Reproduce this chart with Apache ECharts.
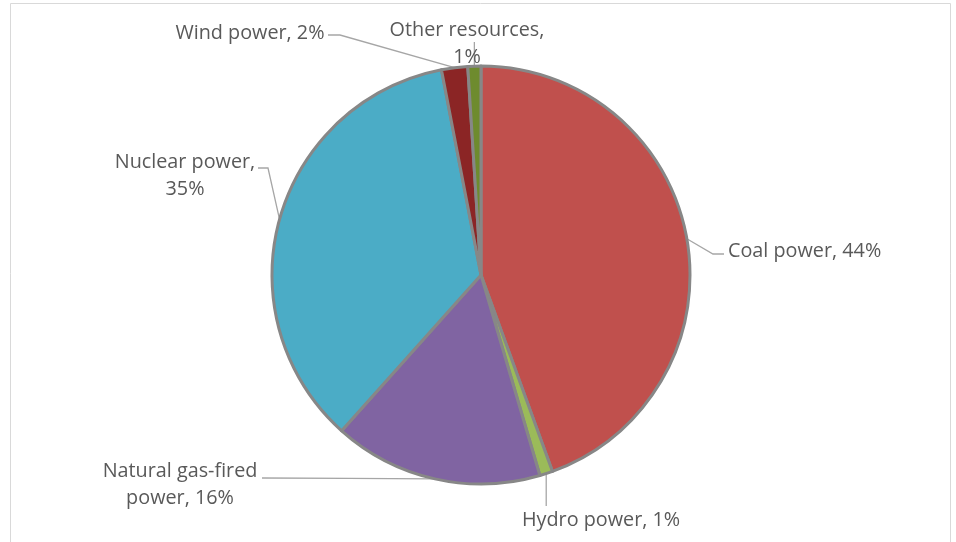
<!DOCTYPE html>
<html>
<head>
<meta charset="utf-8">
<script src="https://cdn.jsdelivr.net/npm/echarts@6/dist/echarts.min.js"></script>
<style>
html,body{margin:0;padding:0;background:#fff;}
#c{width:956px;height:542px;}
</style>
</head>
<body>
<div id="c"></div>
<script>
var labelNames = ['Coal power', 'Hydro power', 'Natural gas-fired', 'Nuclear power', 'Wind power', 'Other resources'];
var shares = [44, 1, 16, 35, 2, 1];
var colors = ['#C0504D', '#9BBB59', '#8064A2', '#4BACC6', '#8B2525', '#6E8B2E'];

// label placement (layout only): text anchor and leader-line bend points
var labelPlace = [
  {x: 728, y: 251, align: 'left',   bend: [[713, 254], [724, 254]]},
  {x: 522, y: 520, align: 'left',   bend: 'down', endY: 506},
  {x: 180, y: 485, align: 'center', bend: [[262, 478]]},
  {x: 185, y: 176, align: 'center', bend: [[268, 168], [258, 168]]},
  {x: 250, y: 33,  align: 'center', bend: [[340, 35], [328, 35]]},
  {x: 467, y: 44,  align: 'center', bend: 'up', endY: 42}
];
var labelText = function (i) {
  var n = labelNames[i], v = shares[i] + '%';
  if (i === 2) return 'Natural gas-fired\npower, ' + v;
  if (i === 3 || i === 5) return n + ',\n' + v;
  return n + ', ' + v;
};

var chart = echarts.init(document.getElementById('c'));
var data = labelNames.map(function (n, i) {
  return {name: n, value: shares[i], itemStyle: {color: colors[i]}};
});
chart.setOption({
  animation: false,
  graphic: [{
    type: 'rect', shape: {x: 10.5, y: 3.5, width: 940, height: 560},
    style: {fill: 'none', stroke: '#d9d9d9', lineWidth: 1}, silent: true, z: -1
  }],
  series: [{
    type: 'pie',
    center: [481, 275],
    radius: 209,
    startAngle: 90,
    clockwise: true,
    avoidLabelOverlap: false,
    itemStyle: {borderColor: '#878787', borderWidth: 3},
    label: {
      show: true,
      position: 'outside',
      formatter: function (p) { return labelText(p.dataIndex); },
      fontFamily: 'Open Sans',
      fontSize: 19.8,
      lineHeight: 27,
      color: '#595959'
    },
    labelLine: {show: true, length: 20, length2: 15, lineStyle: {color: '#a6a6a6', width: 1.3}},
    labelLayout: function (params) {
      var p = labelPlace[params.dataIndex];
      var res = {x: p.x, y: p.y, align: p.align, verticalAlign: 'middle', moveOverlap: null};
      var lp = params.labelLinePoints;
      if (lp && lp.length) {
        var s = lp[0];
        var pts = [[s[0], s[1]]];
        if (p.bend === 'down' || p.bend === 'up') {
          pts.push([s[0], p.endY]);
        } else {
          p.bend.forEach(function (b) { pts.push(b); });
        }
        if (pts.length === 2) pts.splice(1, 0, [(pts[0][0] + pts[1][0]) / 2, (pts[0][1] + pts[1][1]) / 2]);
        res.labelLinePoints = pts;
      }
      return res;
    },
    data: data
  }]
});
</script>
</body>
</html>
